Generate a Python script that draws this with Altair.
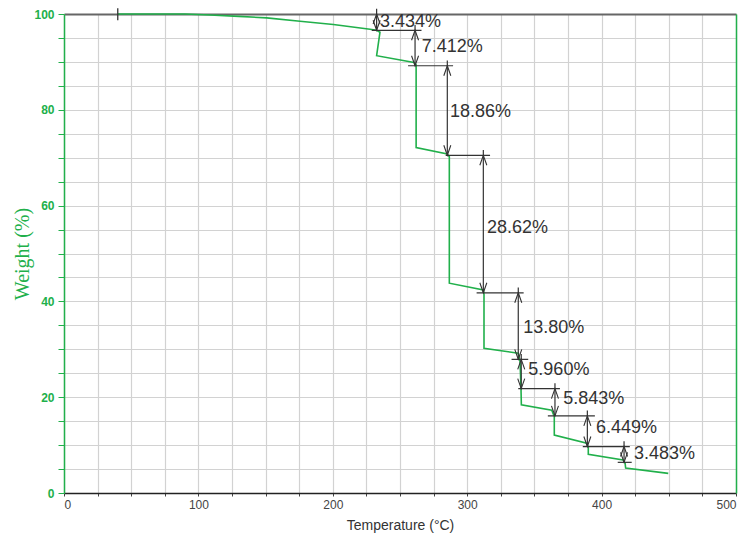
import altair as alt
import pandas as pd

GREEN = "#21b04b"
INK = "#333333"

# TGA curve (temperature °C, weight %)
temp = [40, 90, 108.6, 130, 150.8, 175.6, 200.4, 227.7, 232.6, 235.1, 232.6,
        260.4, 262.0, 262.0, 285.2, 286.7, 286.7, 312.0, 312.5, 312.5, 338.0,
        339.3, 340.0, 340.3, 362.9, 364.8, 364.8, 389.0, 390.1, 390.1, 416.0,
        417.5, 417.9, 449.6]
weight = [100, 100, 99.8, 99.5, 99.2, 98.5, 97.8, 96.8, 96.6, 96.2, 91.3,
          89.9, 89.4, 72.1, 70.8, 70.2, 43.8, 42.4, 41.5, 30.2, 29.2,
          27.5, 22.2, 18.4, 17.3, 16.0, 12.1, 10.4, 9.5, 8.1, 6.9,
          6.2, 5.2, 4.1]

# Step annotations
step_labels = ["3.434%", "7.412%", "18.86%", "28.62%", "13.80%",
               "5.960%", "5.843%", "6.449%", "3.483%"]
arrow_x = [232.6, 261.2, 285.2, 312.0, 338.0, 340.2, 365.3, 389.4, 416.7]
arrow_top = [100.0, 96.6, 89.2, 70.5, 41.8, 27.9, 21.8, 16.1, 9.7]
arrow_bottom = [96.6, 89.2, 70.5, 41.8, 27.9, 21.8, 16.1, 9.7, 6.4]
hline_x1 = [229.0, 256.0, 284.0, 307.0, 333.0, 338.0, 360.0, 386.0, 412.0]
hline_x2 = [266.0, 289.5, 317.0, 342.0, 345.4, 369.0, 395.0, 421.0, 422.4]
label_x = [235.1, 266.1, 287.2, 314.7, 341.7, 345.5, 371.5, 395.8, 424.1]
label_y = [98.4, 93.2, 79.6, 55.3, 34.4, 25.7, 19.6, 13.5, 8.1]

# start marker tick
start_x = [40.0]
start_y1 = [101.2]
start_y2 = [98.7]

curve = pd.DataFrame({"t": temp, "w": weight, "i": list(range(len(temp)))})
ann = pd.DataFrame({
    "label": step_labels, "ax": arrow_x, "top": arrow_top, "bot": arrow_bottom,
    "top_ext": [t + 1.1 for t in arrow_top],
    "x1": hline_x1, "x2": hline_x2, "lx": label_x, "ly": label_y,
})
marker = pd.DataFrame({"x": start_x, "y1": start_y1, "y2": start_y2})

xs = alt.Scale(domain=[0, 500], nice=False, zero=False)
ys = alt.Scale(domain=[0, 100], nice=False, zero=False)

x_axis = alt.Axis(
    values=list(range(0, 501, 25)),
    labelExpr="datum.value % 100 == 0 ? datum.label : ''",
    title="Temperature (°C)", titleFont="Liberation Sans", titleFontSize=14,
    titleFontWeight="normal", titleColor=INK, titlePadding=8,
    labelFont="Liberation Sans", labelFontSize=12, labelColor="#444444",
    labelPadding=3, tickSize=3, tickColor="#444444",
    domainColor="#222222", domainWidth=1.5,
    grid=True, gridColor="#d2d2d2", gridWidth=1.2,
)
y_axis = alt.Axis(
    values=list(range(0, 101, 5)),
    labelExpr="datum.value % 20 == 0 ? datum.label : ''",
    title="Weight (%)", titleFont="Liberation Serif", titleFontSize=20,
    titleFontWeight="normal", titleColor=GREEN, titlePadding=1,
    labelFont="Liberation Sans", labelFontSize=12, labelFontWeight="bold",
    labelColor=GREEN, labelPadding=4, tickSize=6, tickColor=GREEN,
    domainColor=GREEN, domainWidth=1.5,
    grid=True, gridColor="#d2d2d2", gridWidth=1.2,
)

line = alt.Chart(curve).mark_line(color=GREEN, strokeWidth=1.6).encode(
    x=alt.X("t:Q", scale=xs, axis=x_axis),
    y=alt.Y("w:Q", scale=ys, axis=y_axis),
    order="i:Q",
)

hlines = alt.Chart(ann).mark_rule(color=INK, strokeWidth=1.2).encode(
    x=alt.X("x1:Q", scale=xs, axis=alt.Axis(orient="top", labels=False, ticks=False,
                                             grid=False, title=None,
                                             domainColor="#666666", domainWidth=2)),
    x2="x2:Q",
    y=alt.Y("bot:Q", scale=ys, axis=alt.Axis(orient="right", labels=False, ticks=False,
                                              grid=False, title=None,
                                              domainColor=GREEN, domainWidth=1.5)),
)

vlines = alt.Chart(ann).mark_rule(color=INK, strokeWidth=1.2).encode(
    x=alt.X("ax:Q", scale=xs, axis=None),
    y=alt.Y("top_ext:Q", scale=ys, axis=None),
    y2="bot:Q",
)

up_heads = alt.Chart(ann).mark_point(
    shape="M-0.7,2L0,0L0.7,2", size=100, filled=False, color=INK, strokeWidth=1.1, opacity=1
).encode(
    x=alt.X("ax:Q", scale=xs, axis=None),
    y=alt.Y("top:Q", scale=ys, axis=None),
)

down_heads = alt.Chart(ann).mark_point(
    shape="M-0.7,-2L0,0L0.7,-2", size=100, filled=False, color=INK, strokeWidth=1.1, opacity=1
).encode(
    x=alt.X("ax:Q", scale=xs, axis=None),
    y=alt.Y("bot:Q", scale=ys, axis=None),
)

texts = alt.Chart(ann).mark_text(
    align="left", baseline="middle", font="Liberation Sans", fontSize=18, color=INK
).encode(
    x=alt.X("lx:Q", scale=xs, axis=None),
    y=alt.Y("ly:Q", scale=ys, axis=None),
    text="label:N",
)

start_tick = alt.Chart(marker).mark_rule(color=INK, strokeWidth=1.3).encode(
    x=alt.X("x:Q", scale=xs, axis=None),
    y=alt.Y("y1:Q", scale=ys, axis=None),
    y2="y2:Q",
)

chart = alt.layer(
    line, hlines, vlines, up_heads, down_heads, texts, start_tick
).resolve_axis(x="independent", y="independent").properties(
    width=672, height=479,
    padding={"left": 64, "top": 14, "right": 9, "bottom": 47},
    autosize=alt.AutoSizeParams(type="none"),
).configure_view(stroke=None)

chart.save("out.html", embed_options={"renderer": "svg", "actions": False})
